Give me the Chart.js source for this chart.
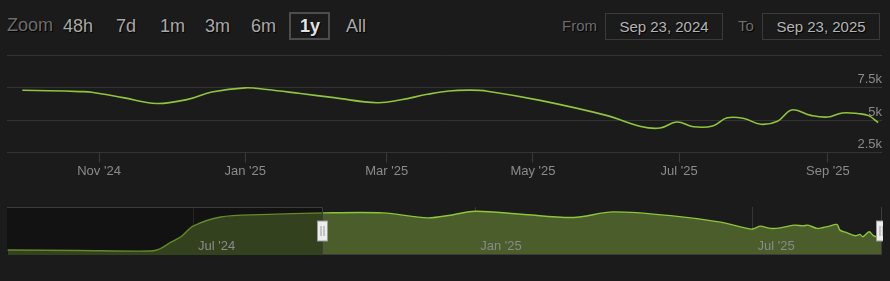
<!DOCTYPE html>
<html lang="en">
<head>
<meta charset="UTF-8">
<title>Players</title>
<script src="https://cdn.jsdelivr.net/npm/chart.js"></script>
<style>
  html, body { margin: 0; padding: 0; background: #1b1b1b; width: 890px; height: 281px; overflow: hidden;
    font-family: "Liberation Sans", Arial, sans-serif; }
  .lbl, .btn, .date { position: absolute; line-height: 20px; text-shadow: 1px 1px 1px #000; white-space: nowrap; }
  .lbl { color: #6c6c6c; }
  .btn { font-size: 18px; color: #a8a8a8; top: 16px; }
  .btn.on { color: #e2e2e2; font-weight: bold; }
  .box { position: absolute; border: 2px solid #4d4d4d; }
  .date { border: 1px solid #3a3a3a; font-size: 15px; color: #b4b4b4; text-align: center; height: 25px; line-height: 25px; }
  #main { position: absolute; left: 0; top: 45px; width: 890px; height: 142px; }
  #nav { position: absolute; left: 0; top: 200px; width: 890px; height: 60px; }
</style>
</head>
<body>
  <div class="lbl" style="left:7px; top:15px; font-size:18px;">Zoom</div>
  <div class="btn" style="left:63px;">48h</div>
  <div class="btn" style="left:116px;">7d</div>
  <div class="btn" style="left:160px;">1m</div>
  <div class="btn" style="left:205px;">3m</div>
  <div class="btn" style="left:251px;">6m</div>
  <div class="box" style="left:289px; top:12px; width:37px; height:24px;"></div>
  <div class="btn on" style="left:300px;">1y</div>
  <div class="btn" style="left:346px;">All</div>

  <div class="lbl" style="left:562px; top:16px; font-size:15px;">From</div>
  <div class="date" style="left:605px; top:13px; width:116px;">Sep 23, 2024</div>
  <div class="lbl" style="left:738px; top:16px; font-size:15px;">To</div>
  <div class="date" style="left:762px; top:13px; width:116px;">Sep 23, 2025</div>

  <div id="main"><canvas id="mainChart"></canvas></div>
  <div id="nav"><canvas id="navChart"></canvas></div>

<script>
// days counted from Sep 23, 2024
const mainDays = [7, 18, 31, 36, 49, 63, 76, 86, 100, 109, 123, 137, 155, 165, 176, 185, 194, 201, 223, 251,
  265, 273, 280, 287, 295, 301, 308, 315, 322, 328, 336, 343, 349, 356, 360, 364];
const mainPlayers = [7310, 7280, 7210, 7160, 6740, 6290, 6610, 7180, 7500, 7370, 7060, 6740, 6350, 6580, 7000, 7260, 7320, 7240, 6530, 5350,
  4510, 4390, 4860, 4490, 4550, 5180, 5130, 4680, 4920, 5790, 5370, 5240, 5560, 5500, 5350, 4820];

// navigator: whole history
const navDays = [-205, -158, -112, -106, -99, -92, -84, -66, -40, 1, 40, 69, 84, 100, 130, 164, 190, 229, 260, 280,
  283, 286, 293, 299, 308, 314, 317, 323, 327, 331, 336, 338, 342, 348, 351, 353, 357, 360, 363, 365];
const navPlayers = [850, 770, 680, 1000, 2100, 3110, 4930, 6500, 6900, 7190, 7190, 6340, 6800, 7480, 6970, 6410, 7360, 6680, 5610, 4420,
  4640, 4930, 4540, 4640, 5100, 4980, 5100, 4540, 4700, 4930, 5220, 4250, 3860, 3280, 3520, 3110, 3960, 3280, 3110, 3200];

const xTickDays = [39, 100, 159, 220, 281, 343];
const xTickLabels = ["Nov '24", "Jan '25", "Mar '25", "May '25", "Jul '25", "Sep '25"];
const yTickValues = [2500, 5000, 7500, 10000];
const yTickLabels = ["2.5k", "5k", "7.5k", ""];
const navTickDays = [-84, 100, 281];
const navTickLabels = ["Jul '24", "Jan '25", "Jul '25"];
const rangeStart = 0, rangeEnd = 365;
const navStart = -205.4, navEnd = 365.4;

const lineGreen = '#8fc43c';
const labelGrey = '#8a8a8a';
const font13 = { family: '"Liberation Sans", Arial, sans-serif', size: 13 };

new Chart(document.getElementById('mainChart'), {
  type: 'line',
  data: {
    datasets: [{
      data: mainDays.map((d, i) => ({ x: d, y: mainPlayers[i] })),
      borderColor: lineGreen,
      borderWidth: 1.6,
      pointRadius: 0,
      tension: 0.4,
      fill: false
    }]
  },
  options: {
    responsive: true,
    maintainAspectRatio: false,
    animation: false,
    layout: { padding: { left: 7, right: 8, top: 10.5, bottom: 6.9 } },
    plugins: { legend: { display: false }, tooltip: { enabled: false } },
    scales: {
      x: {
        type: 'linear',
        min: 0.6,
        max: 365.6,
        afterBuildTicks: s => { s.ticks = xTickDays.map(v => ({ value: v })); },
        ticks: {
          autoSkip: false,
          maxRotation: 0,
          padding: 1,
          color: labelGrey,
          font: font13,
          callback: v => xTickLabels[xTickDays.indexOf(v)]
        },
        grid: { drawOnChartArea: false, drawTicks: true, tickLength: 10, color: '#3a3a3a' },
        border: { display: false }
      },
      y: {
        position: 'right',
        min: 2500,
        max: 10000,
        afterBuildTicks: s => { s.ticks = yTickValues.map(v => ({ value: v })); },
        ticks: {
          mirror: true,
          padding: 0,
          labelOffset: -8,
          color: labelGrey,
          font: font13,
          callback: v => yTickLabels[yTickValues.indexOf(v)]
        },
        grid: { color: '#343434', drawTicks: false },
        border: { display: false }
      }
    }
  }
});

const navigatorDecor = {
  id: 'navigatorDecor',
  afterDraw(chart) {
    const { ctx, chartArea: a } = chart;
    const xs = chart.scales.x;
    const x0 = Math.round(xs.getPixelForValue(rangeStart)) + 0.5;
    const x1 = Math.round(xs.getPixelForValue(rangeEnd)) + 0.5;
    ctx.save();
    // mask outside the selected range
    ctx.fillStyle = 'rgba(0,0,0,0.3)';
    ctx.fillRect(a.left, a.top, x0 - a.left, a.bottom - a.top);
    // outline
    ctx.strokeStyle = '#3c3c3c';
    ctx.lineWidth = 1;
    ctx.beginPath();
    ctx.moveTo(a.left, a.top + 0.5);
    ctx.lineTo(x0, a.top + 0.5);
    ctx.lineTo(x0, a.bottom - 0.5);
    ctx.lineTo(x1, a.bottom - 0.5);
    ctx.lineTo(x1, a.top);
    ctx.stroke();
    // labels
    ctx.fillStyle = labelGrey;
    ctx.font = '13px "Liberation Sans", Arial, sans-serif';
    ctx.textBaseline = 'middle';
    ctx.textAlign = 'left';
    navTickDays.forEach((d, i) => {
      ctx.fillText(navTickLabels[i], xs.getPixelForValue(d) + 5, a.bottom - 9);
    });
    // handles
    ctx.beginPath();
    ctx.rect(0, 0, a.right + 1, chart.height);
    ctx.clip();
    const mid = Math.round((a.top + a.bottom) / 2);
    [x0, x1].forEach(x => {
      ctx.fillStyle = '#ececec';
      ctx.strokeStyle = '#9a9a9a';
      ctx.fillRect(x - 5, mid - 10, 10, 20);
      ctx.strokeRect(x - 5, mid - 10, 10, 20);
      ctx.beginPath();
      ctx.moveTo(x - 1.5, mid - 5); ctx.lineTo(x - 1.5, mid + 5);
      ctx.moveTo(x + 1.5, mid - 5); ctx.lineTo(x + 1.5, mid + 5);
      ctx.stroke();
    });
    ctx.restore();
  }
};

new Chart(document.getElementById('navChart'), {
  type: 'line',
  data: {
    datasets: [{
      data: navDays.map((d, i) => ({ x: d, y: navPlayers[i] })),
      borderColor: lineGreen,
      borderWidth: 1.4,
      backgroundColor: '#4a5d2b',
      pointRadius: 0,
      tension: 0.3,
      fill: 'origin'
    }]
  },
  options: {
    responsive: true,
    maintainAspectRatio: false,
    animation: false,
    layout: { padding: { left: 7, right: 8, top: 7, bottom: 5 } },
    plugins: { legend: { display: false }, tooltip: { enabled: false } },
    scales: {
      x: {
        type: 'linear',
        min: navStart,
        max: navEnd,
        z: 1,
        afterBuildTicks: s => { s.ticks = navTickDays.map(v => ({ value: v })); },
        ticks: { display: false },
        grid: { color: 'rgba(120,120,120,0.3)', drawTicks: false },
        border: { display: false }
      },
      y: { display: false, min: 0, max: 8200 }
    }
  },
  plugins: [navigatorDecor]
});
</script>
</body>
</html>
